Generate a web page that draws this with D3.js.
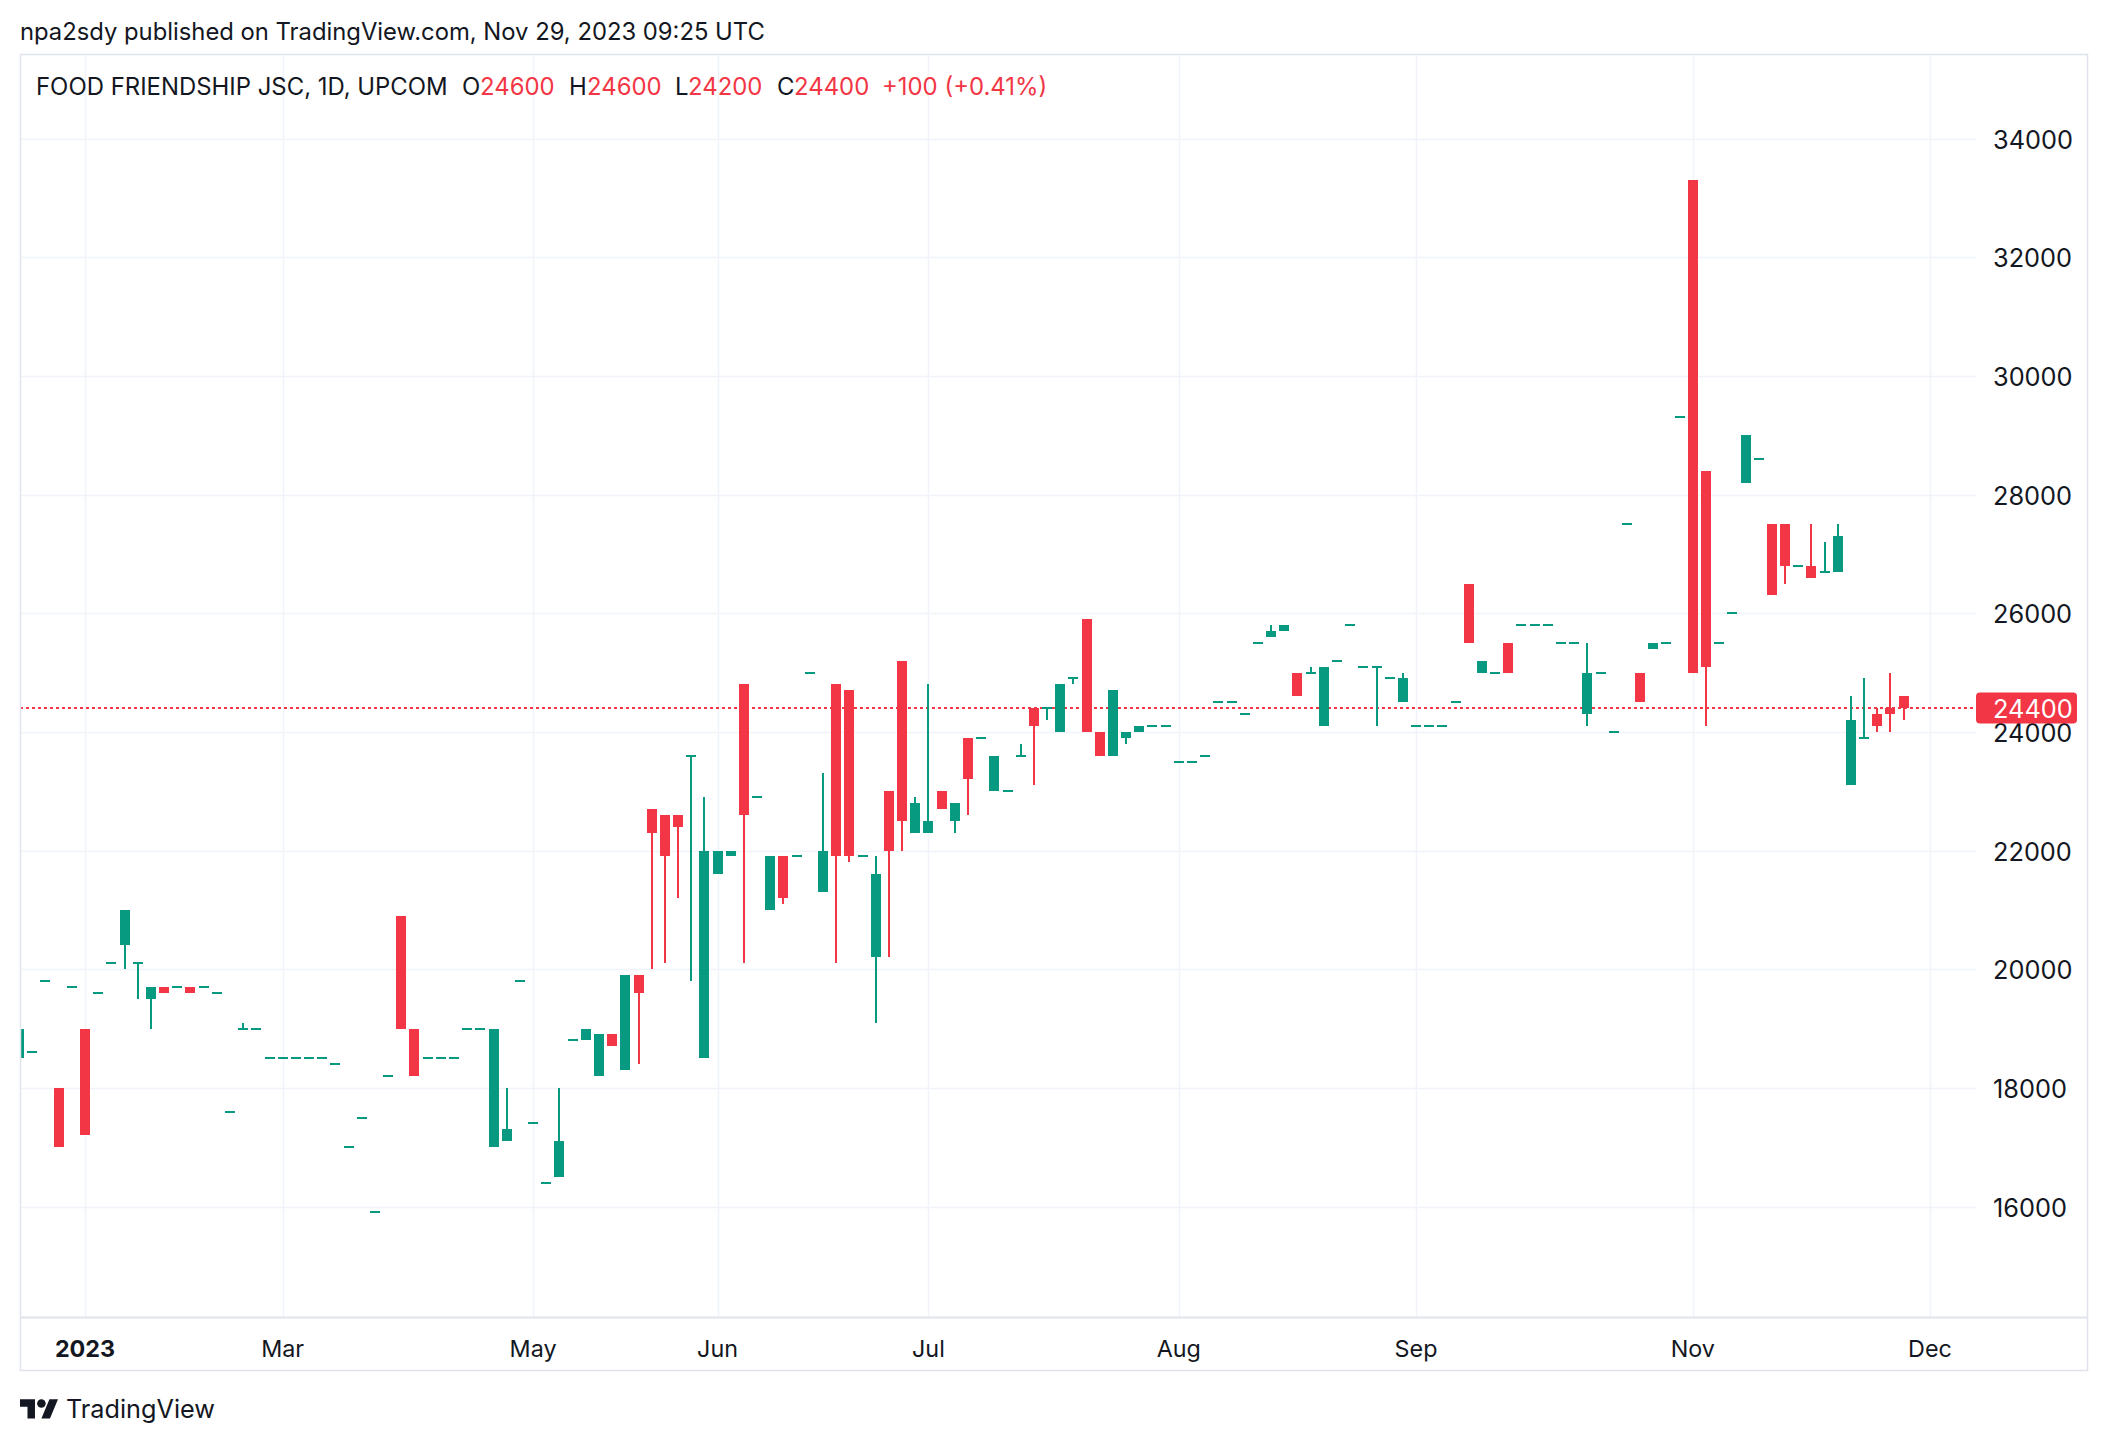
<!DOCTYPE html>
<html><head><meta charset="utf-8">
<script src="https://cdn.jsdelivr.net/npm/d3@7"></script>
<style>
body{margin:0;background:#fff;}
svg{display:block;font-family:Inter,"Noto Sans",sans-serif;}
</style>
</head><body>
<svg id="c" width="2108" height="1442"></svg>
<script>
// ---------- DATA ----------
// bar index 0 = first trading day of Jan 2023; data starts 5 bars earlier (late Dec 2022)
const firstIndex = -5;
const openP = [
18500,18600,19800,18000,19700,19000,19600,20100,20400,20100,
19500,19700,19700,19700,19700,19600,17600,19000,19000,18500,
18500,18500,18500,18500,18400,17000,17500,15900,18200,20900,
19000,18500,18500,18500,19000,19000,17000,17100,19800,17400,
16400,16500,18800,18800,18200,18900,18300,19900,22700,22600,
22600,23600,18500,21600,21900,24800,22900,21000,21900,21900,
25000,21300,24800,24700,21900,20200,23000,25200,22300,22300,
23000,22500,23900,23900,23000,23000,23600,24400,24400,24000,
24900,25900,24000,23600,23900,24000,24100,24100,23500,23500,
23600,24500,24500,24300,25500,25600,25700,25000,25000,24100,
25200,25800,25100,25100,24900,24500,24100,24100,24100,24500,
26500,25000,25000,25500,25800,25800,25800,25500,25500,24300,
25000,24000,27500,25000,25400,25500,29300,33300,28400,25500,
26000,28200,28600,27500,27500,26800,26800,26700,26700,23100,
23900,24300,24400,24600];
const highP = [
19000,18600,19800,18000,19700,19000,19600,20100,21000,20100,
19700,19700,19700,19700,19700,19600,17600,19100,19000,18500,
18500,18500,18500,18500,18400,17000,17500,15900,18200,20900,
19000,18500,18500,18500,19000,19000,19000,18000,19800,17400,
16400,18000,18800,19000,18900,18900,19900,19900,22700,22600,
22600,23600,22900,22000,22000,24800,22900,21900,21900,21900,
25000,23300,24800,24700,21900,21900,23000,25200,22900,24800,
23000,22800,23900,23900,23600,23000,23800,24400,24400,24800,
24900,25900,24000,24700,24000,24100,24100,24100,23500,23500,
23600,24500,24500,24300,25500,25800,25800,25000,25100,25100,
25200,25800,25100,25100,24900,25000,24100,24100,24100,24500,
26500,25200,25000,25500,25800,25800,25800,25500,25500,25500,
25000,24000,27500,25000,25500,25500,29300,33300,28400,25500,
26000,29000,28600,27500,27500,26800,27500,27200,27500,24600,
24900,24400,25000,24600];
const lowP = [
18500,18600,19800,17000,19700,17200,19600,20100,20000,19500,
19000,19600,19700,19600,19700,19600,17600,19000,19000,18500,
18500,18500,18500,18500,18400,17000,17500,15900,18200,19000,
18200,18500,18500,18500,19000,19000,17000,17100,19800,17400,
16400,16500,18800,18800,18200,18700,18300,18400,20000,20100,
21200,19800,18500,21600,21900,20100,22900,21000,21100,21900,
25000,21300,20100,21800,21900,19100,20200,22000,22300,22300,
22700,22300,22600,23900,23000,23000,23600,23100,24200,24000,
24800,24000,23600,23600,23800,24000,24100,24100,23500,23500,
23600,24500,24500,24300,25500,25600,25700,24600,25000,24100,
25200,25800,25100,24100,24900,24500,24100,24100,24100,24500,
25500,25000,25000,25000,25800,25800,25800,25500,25500,24100,
25000,24000,27500,24500,25400,25500,29300,25000,24100,25500,
26000,28200,28600,26300,26500,26800,26600,26700,26700,23100,
23900,24000,24000,24200];
const closeP = [
19000,18600,19800,17000,19700,17200,19600,20100,21000,20100,
19700,19600,19700,19600,19700,19600,17600,19000,19000,18500,
18500,18500,18500,18500,18400,17000,17500,15900,18200,19000,
18200,18500,18500,18500,19000,19000,19000,17300,19800,17400,
16400,17100,18800,19000,18900,18700,19900,19600,22300,21900,
22400,23600,22000,22000,22000,22600,22900,21900,21200,21900,
25000,22000,21900,21900,21900,21600,22000,22500,22800,22500,
22700,22800,23200,23900,23600,23000,23600,24100,24400,24800,
24900,24000,23600,24700,24000,24100,24100,24100,23500,23500,
23600,24500,24500,24300,25500,25700,25800,24600,25000,25100,
25200,25800,25100,25100,24900,24900,24100,24100,24100,24500,
25500,25200,25000,25000,25800,25800,25800,25500,25500,25000,
25000,24000,27500,24500,25500,25500,29300,25000,25100,25500,
26000,29000,28600,26300,26800,26800,26600,26700,27300,24200,
23900,24100,24300,24400];

const priceTicks = [16000,18000,20000,22000,24000,26000,28000,30000,32000,34000];
const timeTickLabels = ["2023","Mar","May","Jun","Jul","Aug","Sep","Nov","Dec"];
const timeTickIndex  = [0,15,34,48,64,83,101,122,140];

const symbolTitle = "FOOD FRIENDSHIP JSC, 1D, UPCOM";
const publishedText = "npa2sdy published on TradingView.com, Nov 29, 2023 09:25 UTC";

// ---------- SETUP ----------
const UP="#089981", DOWN="#F23645", TXT="#131722", GRID="#f0f3fa", BORDER="#e0e3eb";
const svg = d3.select("#c");
const plot = {l:20, r:1976, t:54, b:1317, outerR:2088, outerB:1371};

const x = d3.scaleLinear().domain([0,140]).range([85,1930]);
const y = d3.scaleLinear().domain([16000,34000]).range([1206.5,138.5]);

const bars = openP.map((o,k)=>({i:firstIndex+k,o,h:highP[k],l:lowP[k],c:closeP[k]}));

svg.append("rect").attr("width",2108).attr("height",1442).attr("fill","#fff");

function fit(sel,target){
  const w = sel.node().getComputedTextLength();
  const fs = parseFloat(sel.attr("font-size"));
  const nfs = fs*target/w;
  sel.attr("font-size",nfs);
  return nfs;
}

// published line
fit(svg.append("text").attr("x",20).attr("y",40).attr("font-size",22).attr("fill",TXT)
   .text(publishedText), 745);

// frame
const defs = svg.append("defs");
defs.append("clipPath").attr("id","pc").append("rect")
  .attr("x",plot.l+1).attr("y",plot.t+1).attr("width",plot.r-plot.l-1).attr("height",plot.b-plot.t-1);

// grid
const grid = svg.append("g");
grid.selectAll(".hg").data(priceTicks).join("line")
  .attr("x1",plot.l).attr("x2",plot.r)
  .attr("y1",d=>Math.round(y(d))+0.5).attr("y2",d=>Math.round(y(d))+0.5)
  .attr("stroke",GRID).attr("stroke-width",1.5);
grid.selectAll(".vg").data(timeTickIndex).join("line")
  .attr("y1",plot.t).attr("y2",plot.b)
  .attr("x1",d=>Math.round(x(d))+0.5).attr("x2",d=>Math.round(x(d))+0.5)
  .attr("stroke",GRID).attr("stroke-width",1.5);

// last price line
const last = bars[bars.length-1], prev = bars[bars.length-2];
svg.append("line").attr("x1",plot.l).attr("x2",plot.r)
  .attr("y1",Math.round(y(last.c))).attr("y2",Math.round(y(last.c)))
  .attr("stroke",DOWN).attr("stroke-width",2).attr("stroke-dasharray","3,3");

// candles
const cg = svg.append("g").attr("clip-path","url(#pc)");
const col = d=> d.c>=d.o ? UP : DOWN;
const cand = cg.selectAll("g.c").data(bars).join("g");
cand.append("rect")
  .attr("x",d=>Math.round(x(d.i))-1).attr("width",2)
  .attr("y",d=>Math.round(y(d.h))).attr("height",d=>Math.max(1,Math.round(y(d.l))-Math.round(y(d.h))))
  .attr("fill",col);
cand.append("rect")
  .attr("x",d=>Math.round(x(d.i))-5).attr("width",10)
  .attr("y",d=>{const t=Math.round(y(Math.max(d.o,d.c))),b=Math.round(y(Math.min(d.o,d.c)));return b-t<2?t-1:t;})
  .attr("height",d=>Math.max(2,Math.round(y(Math.min(d.o,d.c)))-Math.round(y(Math.max(d.o,d.c)))))
  .attr("fill",col);

// borders
svg.append("rect").attr("x",plot.l+0.5).attr("y",plot.t+0.5)
  .attr("width",plot.outerR-plot.l-1).attr("height",plot.outerB-plot.t-1)
  .attr("fill","none").attr("stroke",BORDER).attr("stroke-width",1.5);
svg.append("line").attr("x1",plot.l).attr("x2",plot.outerR)
  .attr("y1",plot.b+0.5).attr("y2",plot.b+0.5).attr("stroke",BORDER).attr("stroke-width",2);

// price axis labels
const pl = svg.append("g").selectAll("text").data(priceTicks).join("text")
  .attr("x",1993).attr("y",d=>y(d)).attr("dy","0.4em")
  .attr("font-size",22).attr("fill",TXT).text(d=>d);
const pfs = fit(d3.select(pl.nodes()[0]),74);
pl.attr("font-size",pfs);

// current price label
const ly = y(last.c);
svg.append("rect").attr("x",1976).attr("y",ly-15.5).attr("width",101).attr("height",31).attr("rx",4).attr("fill",DOWN);
svg.append("text").attr("x",1993).attr("y",ly).attr("dy","0.38em").attr("font-size",pfs)
  .attr("fill","#fff").text(last.c);

// time axis
const tl = svg.append("g").selectAll("text").data(timeTickIndex).join("text")
  .attr("x",d=>x(d)).attr("y",1357).attr("text-anchor","middle")
  .attr("font-size",22).attr("fill",TXT)
  .attr("font-weight",(d,k)=>k===0?700:400)
  .text((d,k)=>timeTickLabels[k]);
const tfs = fit(d3.select(tl.nodes()[1]),43);
tl.attr("font-size",tfs);

// header legend
const hy = 94.5;
const ht = svg.append("text").attr("x",36).attr("y",hy).attr("font-size",22).attr("fill",TXT).text(symbolTitle);
const hfs = fit(ht,412);
const chg = last.c-prev.c, pct = chg/prev.c*100;
const fmtS = v=> (v>=0?"+":"")+v;
const pieces = [
  ["O",462,TXT],[String(last.o),480,DOWN],
  ["H",569,TXT],[String(last.h),587,DOWN],
  ["L",675,TXT],[String(last.l),688,DOWN],
  ["C",777,TXT],[String(last.c),794,DOWN],
  [fmtS(chg)+" ("+fmtS(pct.toFixed(2))+"%)",882,DOWN]
];
svg.append("g").selectAll("text").data(pieces).join("text")
  .attr("x",d=>d[1]).attr("y",hy).attr("font-size",hfs).attr("fill",d=>d[2]).text(d=>d[0]);

// logo
const lg = svg.append("g").attr("transform","translate(20,1395) scale(1.07)");
lg.append("path").attr("d","M14 22H7V11H0V4h14v18zM28 22h-8l7.5-18h8L28 22z").attr("fill",TXT);
lg.append("circle").attr("cx",20).attr("cy",8).attr("r",4).attr("fill",TXT);
fit(svg.append("text").attr("x",66).attr("y",1418).attr("font-size",26).attr("fill",TXT).text("TradingView"),149);
</script>
</body></html>
